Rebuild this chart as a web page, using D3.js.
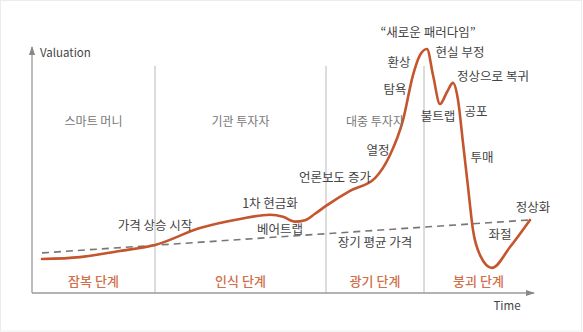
<!DOCTYPE html>
<html>
<head>
<meta charset="utf-8">
<script src="https://cdn.jsdelivr.net/npm/d3@7"></script>
<style>
  html, body { margin: 0; padding: 0; background: #fff; }
  svg { display: block; }
  text { font-family: "Noto Sans CJK KR", "Noto Sans", sans-serif; }
</style>
</head>
<body>
<svg id="chart" width="583" height="332"></svg>
<script>
// ---- data (time 0-100, valuation 0-100) ----
const curveTime  = [2, 9.6, 17.6, 24.6, 33.6, 41.6, 47.6, 50.2, 52.6, 54.6, 56.6, 58.8, 63.6, 68.6, 71.6, 74.2, 76.2, 77.6, 79, 80.2, 81.6, 83, 84.2, 85.2, 86.2, 87.2, 88.2, 89.6, 92, 95.6, 99.6];
const curveValue = [13.8, 14.6, 17.1, 19.5, 26.4, 30.1, 31.8, 31.0, 29.0, 29.6, 32.2, 35.4, 41.5, 46.7, 56.1, 70.3, 88.6, 96.7, 99.2, 88.6, 76.8, 81.7, 85.4, 78.5, 61, 43.1, 25.6, 15.4, 10.2, 18.7, 29.7];
const avgTime  = [2, 99.6];
const avgValue = [16.3, 29.7];
const phaseBounds = [0, 24.6, 58.8, 78.4, 100.2];
const phaseNames = ["잠복 단계", "인식 단계", "광기 단계", "붕괴 단계"];
const investorNames = ["스마트 머니", "기관 투자자", "대중 투자자"];
const annotationTexts = ["가격 상승 시작", "1차 현금화", "베어트랩", "언론보도 증가", "열정", "탐욕", "환상", "\u201C새로운 패러다임\u201D", "현실 부정", "정상으로 복귀", "불트랩", "공포", "투매", "좌절", "정상화", "장기 평균 가격"];
// annotation anchor points (time, valuation)
const annotationTime  = [24.6, 47.6, 49.6, 60.6, 69.2, 72.6, 73.4, 79.2, 85.6, 92.2, 81.2, 88.8, 90, 93.6, 100.2, 68.6];
const annotationValue = [27.2, 36.2, 25.6, 46.7, 57.7, 82.5, 93.5, 105.7, 97.6, 87.8, 71.5, 73.6, 54.9, 23.6, 34.6, 20.3];

// ---- layout ----
const svg = d3.select("#chart");
const x = d3.scaleLinear().domain([0, 100]).range([32, 532]);
const y = d3.scaleLinear().domain([0, 100]).range([293, 47]);
const dividerTop = 92.3;
const axisColor = "#9a9a9a";

// faint frame
svg.append("rect").attr("x", 0.5).attr("y", 0.5).attr("width", 581).attr("height", 330.5)
  .attr("fill", "none").attr("stroke", "#ececec").attr("stroke-width", 1);

// arrow marker
const defs = svg.append("defs");
defs.append("marker").attr("id", "arrow").attr("viewBox", "0 0 10 10")
  .attr("refX", 9).attr("refY", 5).attr("markerWidth", 7).attr("markerHeight", 7)
  .attr("orient", "auto-start-reverse")
  .append("path").attr("d", "M0,1.5 L10,5 L0,8.5 Z").attr("fill", "#888");

// dividers
svg.append("g").selectAll("line").data(phaseBounds.slice(1, -1)).join("line")
  .attr("x1", d => x(d)).attr("x2", d => x(d))
  .attr("y1", y(dividerTop)).attr("y2", y(0))
  .attr("stroke", "#b8b8b8").attr("stroke-width", 1);

// axes
svg.append("line").attr("x1", x(0)).attr("y1", y(0)).attr("x2", x(0)).attr("y2", y(100))
  .attr("stroke", axisColor).attr("stroke-width", 1.3).attr("marker-end", "url(#arrow)");
svg.append("line").attr("x1", x(0)).attr("y1", y(0)).attr("x2", x(100.4)).attr("y2", y(0))
  .attr("stroke", axisColor).attr("stroke-width", 1.3).attr("marker-end", "url(#arrow)");

svg.append("text").attr("x", x(0) + 8).attr("y", y(97.6)).attr("dy", "0.35em")
  .attr("font-size", 11.5).attr("fill", "#444").text("Valuation");
svg.append("text").attr("x", x(95)).attr("y", y(-5.3)).attr("dy", "0.35em")
  .attr("text-anchor", "middle").attr("font-size", 11.5).attr("fill", "#444").text("Time");

// long term average dashed line
const avgData = avgTime.map((t, i) => [t, avgValue[i]]);
svg.append("path").datum(avgData)
  .attr("d", d3.line().x(d => x(d[0])).y(d => y(d[1])))
  .attr("fill", "none").attr("stroke", "#777").attr("stroke-width", 1.6)
  .attr("stroke-dasharray", "7,5");

// main curve
const curveData = curveTime.map((t, i) => [t, curveValue[i]]);
svg.append("path").datum(curveData)
  .attr("d", d3.line().x(d => x(d[0])).y(d => y(d[1])).curve(d3.curveMonotoneX))
  .attr("fill", "none").attr("stroke", "#c4552d").attr("stroke-width", 2.6)
  .attr("stroke-linecap", "round");

// phase labels
const centers = phaseNames.map((n, i) => (phaseBounds[i] + phaseBounds[i + 1]) / 2);
svg.append("g").selectAll("text").data(phaseNames).join("text")
  .attr("x", (d, i) => x(centers[i])).attr("y", y(4.5)).attr("dy", "0.35em")
  .attr("text-anchor", "middle").attr("font-size", 13).attr("font-weight", 500)
  .attr("fill", "#d0704a").text(d => d);

// investor labels
svg.append("g").selectAll("text").data(investorNames).join("text")
  .attr("x", (d, i) => x(centers[i])).attr("y", y(69.5)).attr("dy", "0.35em")
  .attr("text-anchor", "middle").attr("font-size", 12)
  .attr("fill", "#777").text(d => d);

// annotations
svg.append("g").selectAll("text").data(annotationTexts).join("text")
  .attr("x", (d, i) => x(annotationTime[i])).attr("y", (d, i) => y(annotationValue[i])).attr("dy", "0.35em")
  .attr("text-anchor", "middle").attr("font-size", 12.5)
  .attr("fill", "#444").text(d => d);
</script>
</body>
</html>
